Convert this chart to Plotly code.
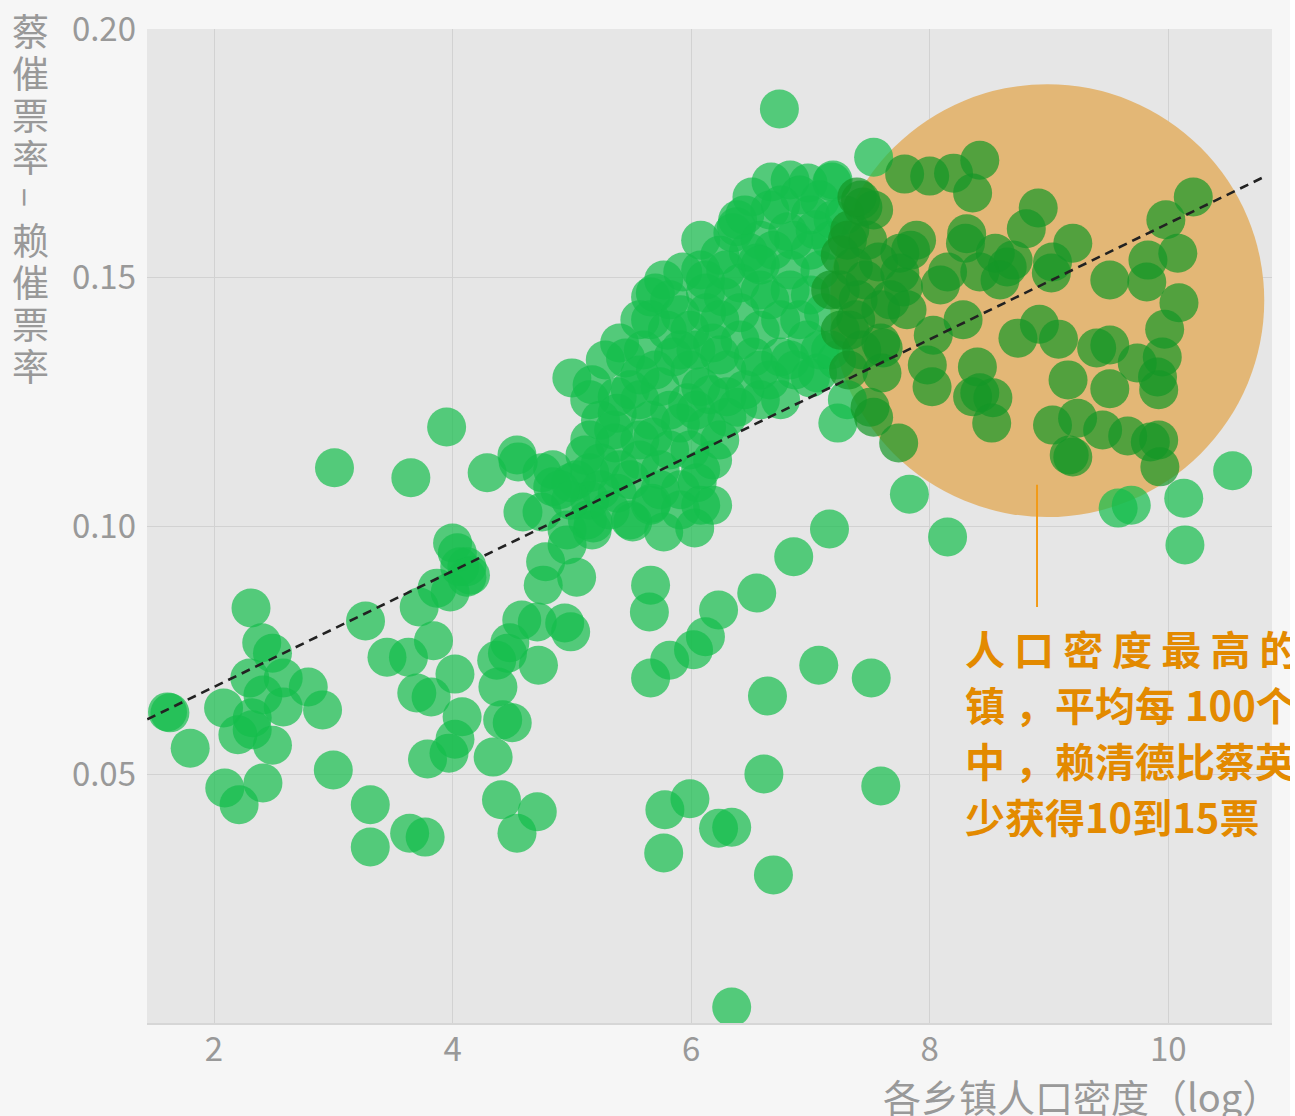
import plotly.graph_objects as go

# ---------------- data ----------------
# x: 各乡镇人口密度（log） ; y: 蔡催票率 - 赖催票率
log_density = [
    1.61, 1.63, 1.80, 2.31, 2.40, 2.49, 2.30, 2.58, 2.79, 2.91, 2.08, 2.41, 2.58, 2.32, 2.20, 2.32, 2.49,
    2.09, 2.21, 2.41, 3.00, 3.31, 3.31, 3.64, 3.77, 3.27, 3.45, 3.63, 3.84, 3.72, 3.87, 3.98, 4.06, 4.15,
    4.02, 3.70, 3.82, 4.08, 4.02, 3.79, 3.97, 4.37, 4.38, 4.42, 4.34, 4.41, 4.54, 4.71, 3.01, 3.65, 3.95,
    4.29, 4.54, 4.55, 4.75, 4.59, 4.75, 4.84, 5.04, 5.15, 5.15, 4.00, 4.04, 4.12, 4.12, 4.78, 4.96, 4.76,
    5.04, 4.58, 4.71, 4.94, 4.99, 4.48, 4.46, 4.72, 4.50, 4.96, 5.17, 5.13, 5.51, 5.77, 6.03, 6.18, 5.66,
    5.66, 5.65, 6.23, 6.55, 6.86, 7.16, 8.15, 6.12, 6.02, 5.82, 5.66, 6.64, 7.07, 7.51, 6.61, 7.59, 5.78,
    5.99, 6.23, 6.34, 5.77, 6.69, 6.34, 7.83, 9.58, 9.69, 10.13, 10.54, 10.14,
    # high-density towns
    7.53, 7.79, 8.00, 8.20, 8.42, 8.36, 8.91, 8.81, 9.20, 10.21, 9.98, 10.08, 9.83, 9.51, 9.82, 10.09,
    9.97, 9.95, 9.91, 9.92, 9.51, 9.40, 9.74, 9.51, 9.16, 9.08, 8.92, 8.74, 9.02, 9.03, 8.65, 8.70, 8.55,
    8.31, 8.30, 8.59, 8.42, 8.15, 8.09, 8.28, 8.03, 7.89, 7.75, 7.75, 7.78, 7.84, 7.81, 7.59, 7.40, 7.38,
    7.59, 7.61, 7.60, 7.98, 8.02, 8.40, 8.36, 8.42, 8.53, 8.52, 9.03, 9.24, 9.45, 9.66, 9.85, 9.92, 9.93,
    9.17, 9.20, 7.50, 7.53, 7.74, 7.23, 7.36, 7.44, 7.53, 7.31, 7.48, 7.19, 6.98, 7.17, 7.06, 7.22,
    7.33, 7.33, 7.32, 7.46, 7.43, 7.57, 7.67, 7.42,
    # central cluster
    6.74, 6.51, 6.67, 6.83, 6.91, 7.18, 6.38, 6.39, 6.81, 5.93, 5.77, 5.70, 6.12, 6.48, 7.19, 7.39, 5.66,
    5.40, 5.45, 5.00, 5.17, 5.38, 5.38, 5.35, 5.36, 5.68, 5.24, 4.84, 4.99, 5.38, 5.18, 5.49, 5.67, 6.18,
    6.05, 6.30, 6.39, 6.66, 7.00, 5.74, 5.85, 5.99, 6.13, 6.27, 6.41, 6.55, 6.69, 6.86, 6.35, 7.11, 6.97,
    6.75, 6.52, 6.30, 6.08, 5.97, 5.91, 6.13, 6.30, 6.58, 6.18, 6.41, 5.80, 5.60, 5.99, 7.31,
    6.66, 7.00, 6.58, 6.83, 7.08, 6.91, 7.25, 6.75, 6.41, 6.04, 5.70, 5.57, 5.66, 6.04, 6.24, 5.99, 5.74,
    5.57, 5.49, 5.91, 6.08, 6.58, 6.83, 7.08, 5.57, 5.82, 6.08, 6.24, 6.58, 7.00, 7.17, 7.08, 5.24, 5.15,
    5.24, 4.99,
    6.08, 6.45, 6.75, 7.04, 7.29, 6.58, 6.83, 7.25, 6.12, 6.29, 5.66, 5.91, 6.24, 6.66, 7.00, 7.25, 5.28,
    5.57, 5.91, 6.24, 6.58, 6.87, 7.17, 5.15, 5.49, 5.82, 6.16, 6.45, 6.75, 5.57, 5.82, 6.08, 5.11, 5.40,
    5.74, 5.32, 4.90, 5.91,
]
vote_gap = [
    0.0626, 0.0624, 0.0553, 0.0835, 0.0765, 0.0744, 0.0694, 0.0694, 0.0676, 0.0630, 0.0634, 0.0660, 0.0636,
    0.0614, 0.0580, 0.0590, 0.0559, 0.0473, 0.0439, 0.0483, 0.0509, 0.0439, 0.0354, 0.0382, 0.0374, 0.0809,
    0.0736, 0.0736, 0.0769, 0.0837, 0.0875, 0.0867, 0.0918, 0.0901, 0.0702, 0.0664, 0.0656, 0.0616, 0.0571,
    0.0531, 0.0543, 0.0730, 0.0676, 0.0610, 0.0535, 0.0449, 0.0382, 0.0425, 0.1117, 0.1097, 0.1199, 0.1107,
    0.1143, 0.1129, 0.1107, 0.1028, 0.1028, 0.1079, 0.1093, 0.1107, 0.1052, 0.0966, 0.0946, 0.0918, 0.0897,
    0.0928, 0.0962, 0.0881, 0.0897, 0.0811, 0.0807, 0.0805, 0.0787, 0.0765, 0.0744, 0.0720, 0.0604, 0.0992,
    0.0992, 0.1012, 0.1008, 0.0988, 0.0996, 0.1042, 0.1042, 0.0881, 0.0827, 0.0831, 0.0865, 0.0938, 0.0994,
    0.0978, 0.0777, 0.0751, 0.0730, 0.0694, 0.0658, 0.0720, 0.0694, 0.0501, 0.0477, 0.0429, 0.0451, 0.0392,
    0.0394, 0.0342, 0.0298, 0.0032, 0.1064, 0.1036, 0.1042, 0.1056, 0.1111, 0.0962,
    # high-density towns
    0.1742, 0.1708, 0.1704, 0.1710, 0.1736, 0.1670, 0.1640, 0.1598, 0.1569, 0.1662, 0.1616, 0.1549, 0.1535,
    0.1495, 0.1491, 0.1449, 0.1396, 0.1340, 0.1300, 0.1274, 0.1364, 0.1358, 0.1328, 0.1276, 0.1294, 0.1376,
    0.1406, 0.1378, 0.1509, 0.1531, 0.1521, 0.1535, 0.1549, 0.1588, 0.1569, 0.1495, 0.1511, 0.1511, 0.1485,
    0.1415, 0.1384, 0.1575, 0.1549, 0.1509, 0.1481, 0.1555, 0.1435, 0.1435, 0.1455, 0.1415, 0.1368, 0.1358,
    0.1308, 0.1324, 0.1280, 0.1320, 0.1260, 0.1268, 0.1258, 0.1207, 0.1203, 0.1217, 0.1193, 0.1181, 0.1169,
    0.1173, 0.1119, 0.1143, 0.1139, 0.1239, 0.1219, 0.1167, 0.1207, 0.1521, 0.1642, 0.1636, 0.1575, 0.1575,
    0.1696, 0.1690, 0.1475, 0.1308, 0.1334,
    0.1596, 0.1394, 0.1314, 0.1495, 0.1354, 0.1531, 0.1455, 0.1656,
    # central cluster
    0.1839, 0.1662, 0.1692, 0.1696, 0.1666, 0.1692, 0.1602, 0.1616, 0.1592, 0.1511, 0.1495, 0.1469, 0.1469,
    0.1551, 0.1616, 0.1662, 0.1461, 0.1368, 0.1338, 0.1298, 0.1284, 0.1260, 0.1227, 0.1193, 0.1167, 0.1179,
    0.1127, 0.1113, 0.1087, 0.1066, 0.1006, 0.1012, 0.1046, 0.1133, 0.1087, 0.1219, 0.1239, 0.1294, 0.1298,
    0.1280, 0.1340, 0.1394, 0.1429, 0.1461, 0.1489, 0.1529, 0.1555, 0.1575, 0.1590, 0.1429, 0.1374, 0.1340,
    0.1340, 0.1314, 0.1280, 0.1248, 0.1207, 0.1199, 0.1260, 0.1394, 0.1368, 0.1429, 0.1394, 0.1354, 0.1314,
    0.1254,
    0.1636, 0.1626, 0.1475, 0.1475, 0.1515, 0.1415, 0.1394, 0.1415, 0.1374, 0.1354, 0.1314, 0.1254, 0.1213,
    0.1233, 0.1173, 0.1153, 0.1113, 0.1133, 0.1093, 0.1073, 0.1042, 0.1254, 0.1334, 0.1354, 0.1415, 0.1455,
    0.1515, 0.1545, 0.1575, 0.1555, 0.1575, 0.1656, 0.1213, 0.1173, 0.1073, 0.1052,
    0.1575, 0.1626, 0.1646, 0.1596, 0.1626, 0.1525, 0.1515, 0.1545, 0.1495, 0.1515, 0.1415, 0.1425, 0.1415,
    0.1455, 0.1465, 0.1475, 0.1334, 0.1304, 0.1354, 0.1344, 0.1314, 0.1314, 0.1354, 0.1254, 0.1274, 0.1233,
    0.1264, 0.1274, 0.1254, 0.1173, 0.1153, 0.1113, 0.1143, 0.1113, 0.1073, 0.1032, 0.1073, 0.1032,
]

# trend line (dashed)
fit_x = [1.44, 10.80]
fit_y = [0.0611, 0.1702]

# highlighted region and pointer
highlight_x = [7.166, 10.805]
highlight_y = [0.1018, 0.1889]
pointer_x = [8.90, 8.90]
pointer_y = [0.1083, 0.0837]

x_tick_vals = [2, 4, 6, 8, 10]
y_tick_vals = [0.05, 0.10, 0.15, 0.20]
y_tick_text = ["0.05", "0.10", "0.15", "0.20"]
x_range = [1.438, 10.87]
y_range = [0.0, 0.2]

y_title = "蔡催票率–赖催票率"
x_title = "各乡镇人口密度（log）"
note_lines = [
    "人 口 密 度 最 高 的",
    "镇\u2005，平均每\u2005100个",
    "中\u2005，赖清德比蔡英",
    "少获得10到15票",
]

# ---------------- styles ----------------
W, H = 1290, 1116
ML, MR, MT, MB = 147, 18, 29, 93
PW, PH = W - ML - MR, H - MT - MB

FONT = "Noto Sans CJK SC"
GRAY = "#999999"
ORANGE = "#E38A00"
PLOT_BG = (230, 230, 230)
GREEN = (20, 190, 75)
HIGHLIGHT = (227, 183, 118)   # orange disc as it appears over the plot background


def hexc(rgb):
    return "#%02X%02X%02X" % tuple(int(round(v)) for v in rgb)


# the disc darkens whatever lies below it ("multiply"): same factor for the dots inside
mult = [h / b for h, b in zip(HIGHLIGHT, PLOT_BG)]
GREEN_IN = [g * m for g, m in zip(GREEN, mult)]


def px_to_paper_x(px):
    return (px - ML) / PW


def py_to_paper_y(py):
    return (H - MB - py) / PH


def px_to_data_x(px):
    return x_range[0] + (px - ML) / PW * (x_range[1] - x_range[0])


def py_to_data_y(py):
    return y_range[1] - (py - MT) / PH * (y_range[1] - y_range[0])


cx, rx = (highlight_x[0] + highlight_x[1]) / 2, (highlight_x[1] - highlight_x[0]) / 2
cy, ry = (highlight_y[0] + highlight_y[1]) / 2, (highlight_y[1] - highlight_y[0]) / 2
inside = [((x - cx) / rx) ** 2 + ((y - cy) / ry) ** 2 <= 1.0 for x, y in zip(log_density, vote_gap)]
out_x = [x for x, k in zip(log_density, inside) if not k]
out_y = [y for y, k in zip(vote_gap, inside) if not k]
in_x = [x for x, k in zip(log_density, inside) if k]
in_y = [y for y, k in zip(vote_gap, inside) if k]

fig = go.Figure()

fig.add_shape(
    type="circle", xref="x", yref="y",
    x0=highlight_x[0], x1=highlight_x[1], y0=highlight_y[0], y1=highlight_y[1],
    fillcolor=hexc(HIGHLIGHT), line=dict(width=0), opacity=1, layer="between",
)

fig.add_trace(go.Scatter(
    x=out_x, y=out_y, mode="markers",
    marker=dict(size=39, color=hexc(GREEN), opacity=0.7, line=dict(width=0)),
    hoverinfo="skip", showlegend=False,
))
fig.add_trace(go.Scatter(
    x=in_x, y=in_y, mode="markers",
    marker=dict(size=39, color=hexc(GREEN_IN), opacity=0.7, line=dict(width=0)),
    hoverinfo="skip", showlegend=False,
))

fig.add_trace(go.Scatter(
    x=fit_x, y=fit_y, mode="lines",
    line=dict(color="#222222", width=2.6, dash="9px,6px"),
    hoverinfo="skip", showlegend=False,
))

fig.add_trace(go.Scatter(
    x=pointer_x, y=pointer_y, mode="lines",
    line=dict(color="#F29A16", width=2),
    hoverinfo="skip", showlegend=False,
))

annotations = []
for i, ch in enumerate(y_title):
    annotations.append(dict(
        text=ch, xref="paper", yref="paper",
        x=px_to_paper_x(30), y=py_to_paper_y(30 + i * 41.9),
        xanchor="center", yanchor="middle", showarrow=False,
        textangle=90 if ch == "–" else 0,
        font=dict(family=FONT, size=37, color=GRAY),
    ))
annotations.append(dict(
    text=x_title, xref="paper", yref="paper",
    x=px_to_paper_x(881), y=py_to_paper_y(1095),
    xanchor="left", yanchor="middle", showarrow=False,
    font=dict(family=FONT, size=38, color=GRAY),
))
for i, line in enumerate(note_lines):
    annotations.append(dict(
        text="<b>" + line + "</b>", xref="x", yref="y",
        x=px_to_data_x(963), y=py_to_data_y(648 + i * 56),
        xanchor="left", yanchor="middle", showarrow=False,
        font=dict(family=FONT, size=40, color=ORANGE),
    ))

fig.update_layout(
    width=W, height=H,
    margin=dict(l=ML, r=MR, t=MT, b=MB, pad=0, autoexpand=False),
    paper_bgcolor="#F6F6F6", plot_bgcolor=hexc(PLOT_BG),
    showlegend=False,
    annotations=annotations,
    xaxis=dict(
        range=x_range, tickvals=x_tick_vals, ticktext=[str(v) for v in x_tick_vals],
        showgrid=True, gridcolor="#D2D2D2", gridwidth=1, zeroline=False,
        showline=True, linecolor="#D6D6D6", linewidth=2, automargin=False,
        ticks="", tickfont=dict(family=FONT, size=33, color=GRAY),
        ticklabelstandoff=-4,
    ),
    yaxis=dict(
        range=y_range, tickvals=y_tick_vals, ticktext=y_tick_text,
        showgrid=True, gridcolor="#D2D2D2", gridwidth=1, zeroline=False,
        showline=False, automargin=False,
        ticks="", tickfont=dict(family=FONT, size=33, color=GRAY),
        ticklabelstandoff=10,
    ),
)

fig.write_html("out.html", post_script="document.body.style.margin='0';",
               config={"displayModeBar": False})
